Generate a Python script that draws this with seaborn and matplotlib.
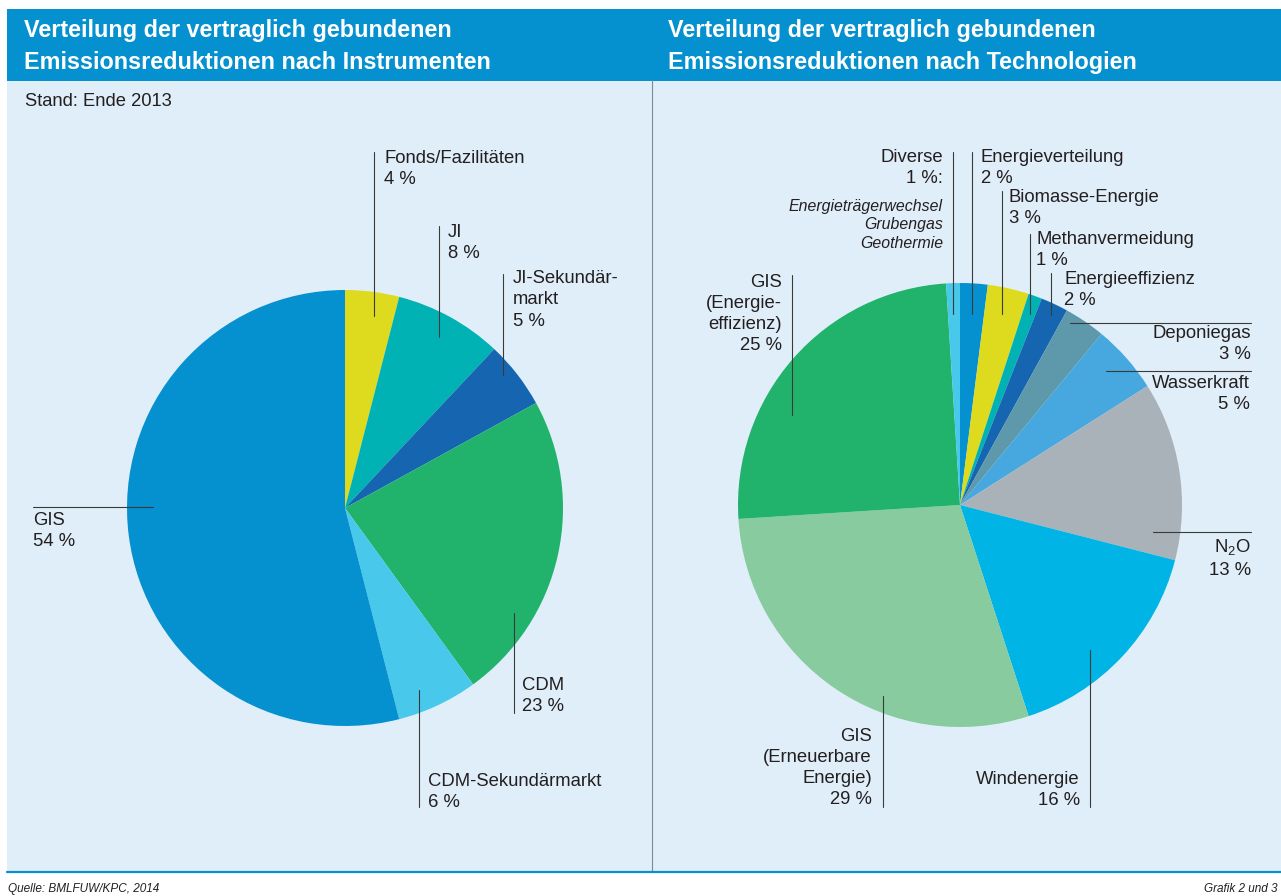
import matplotlib
matplotlib.use("Agg")
import matplotlib.pyplot as plt
import seaborn as sns

# --- Daten ---
instr_names = ["Fonds/Fazilitäten", "JI", "JI-Sekundärmarkt", "CDM", "CDM-Sekundärmarkt", "GIS"]
instr_values = [4, 8, 5, 23, 6, 54]
instr_colors = ["#dedb1f", "#00b2b4", "#1565b0", "#21b36b", "#48c8ea", "#0590d0"]

tech_names = ["Energieverteilung", "Biomasse-Energie", "Methanvermeidung", "Energieeffizienz",
              "Deponiegas", "Wasserkraft", "N2O", "Windenergie",
              "GIS (Erneuerbare Energie)", "GIS (Energieeffizienz)", "Diverse"]
tech_values = [2, 3, 1, 2, 3, 5, 13, 16, 29, 25, 1]
tech_colors = ["#0590d0", "#dedb1f", "#00b2b4", "#1565b0", "#5e98ab", "#46a8de",
               "#a9b2b8", "#00b4e6", "#88cb9e", "#21b36b", "#48c8ea"]

diverse_items = ["Energieträgerwechsel", "Grubengas", "Geothermie"]

# --- Layout (Pixel) ---
W, H = 1281, 896
HEAD_BLUE = "#0590d0"
PANEL_BG = "#e0eef9"
TXT = "#231f20"
LINE = "#3a3a3a"

sns.set_theme(style="white")
plt.rcParams["font.family"] = ["Liberation Sans", "DejaVu Sans"]
plt.rcParams["mathtext.fontset"] = "custom"
plt.rcParams["mathtext.rm"] = "Liberation Sans"

fig = plt.figure(figsize=(W / 100, H / 100), dpi=100)
fig.patch.set_facecolor("white")


def pixel_axes(zorder):
    a = fig.add_axes([0, 0, 1, 1], zorder=zorder)
    a.set_xlim(0, W)
    a.set_ylim(H, 0)
    a.axis("off")
    a.patch.set_alpha(0)
    return a


bg = pixel_axes(0)

# Hintergrund, Kopfzeile, Trennlinien
bg.add_patch(plt.Rectangle((7, 80), W - 7, 792, color=PANEL_BG, lw=0))
bg.add_patch(plt.Rectangle((7, 9), W - 7, 72, color=HEAD_BLUE, lw=0))
bg.plot([652, 652], [80, 872], color="#7a8a96", lw=0.8)
bg.plot([7, W], [872, 872], color=HEAD_BLUE, lw=1.6)

title_kw = dict(color="white", fontsize=16.8, fontweight="bold", va="baseline")
bg.text(24, 37, "Verteilung der vertraglich gebundenen", **title_kw)
bg.text(24, 69, "Emissionsreduktionen nach Instrumenten", **title_kw)
bg.text(668, 37, "Verteilung der vertraglich gebundenen", **title_kw)
bg.text(668, 69, "Emissionsreduktionen nach Technologien", **title_kw)

bg.text(25, 101, "Stand: Ende 2013", fontsize=13.2, color=TXT, va="center")

bg.text(8, 889, "Quelle: BMLFUW/KPC, 2014", fontsize=8.5, style="italic", color=TXT, va="center")
bg.text(1278, 889, "Grafik 2 und 3", fontsize=8.5, style="italic", color=TXT, va="center", ha="right")


def pie_axes(cx, cy, r):
    return fig.add_axes([(cx - r) / W, (H - cy - r) / H, 2 * r / W, 2 * r / H], zorder=1)


ax1 = pie_axes(345, 508, 218)
ax1.pie(instr_values, colors=sns.color_palette(instr_colors), startangle=90, counterclock=False,
        wedgeprops=dict(linewidth=0.3, edgecolor="none"))
ax1.set_xlim(-1, 1)
ax1.set_ylim(-1, 1)
ax1.axis("off")

ax2 = pie_axes(960, 505, 222)
ax2.pie(tech_values, colors=sns.color_palette(tech_colors), startangle=90, counterclock=False,
        wedgeprops=dict(linewidth=0.3, edgecolor="none"))
ax2.set_xlim(-1, 1)
ax2.set_ylim(-1, 1)
ax2.axis("off")

# Beschriftungen und Hinweislinien über den Torten
top = pixel_axes(2)

# (Text, x, y-Mitte, ha)
lab_kw = dict(fontsize=13.3, color=TXT, va="center", linespacing=1.33)
left_labels = [
    (f"Fonds/Fazilitäten\n{instr_values[0]} %", 384, 169, "left"),
    (f"JI\n{instr_values[1]} %", 448, 243, "left"),
    (f"JI-Sekundär-\nmarkt\n{instr_values[2]} %", 513, 300, "left"),
    (f"GIS\n{instr_values[5]} %", 33, 531, "left"),
    (f"CDM\n{instr_values[3]} %", 522, 696, "left"),
    (f"CDM-Sekundärmarkt\n{instr_values[4]} %", 428, 792, "left"),
]
right_labels = [
    (f"Diverse\n{tech_values[10]} %:", 943, 168, "right"),
    (f"Energieverteilung\n{tech_values[0]} %", 981, 168, "left"),
    (f"Biomasse-Energie\n{tech_values[1]} %", 1009, 208, "left"),
    (f"Methanvermeidung\n{tech_values[2]} %", 1036, 250, "left"),
    (f"Energieeffizienz\n{tech_values[3]} %", 1064, 290, "left"),
    (f"Deponiegas\n{tech_values[4]} %", 1251, 344, "right"),
    (f"Wasserkraft\n{tech_values[5]} %", 1250, 394, "right"),
    (f"N$_\\mathrm{{2}}$O\n{tech_values[6]} %", 1251, 558, "right"),
    (f"Windenergie\n{tech_values[7]} %", 1080, 790, "right"),
    (f"GIS\n(Erneuerbare\nEnergie)\n{tech_values[8]} %", 872, 768, "right"),
    (f"GIS\n(Energie-\neffizienz)\n{tech_values[9]} %", 782, 314, "right"),
]
for s, x, y, ha in left_labels + right_labels:
    top.text(x, y, s, ha=ha, multialignment=ha, **lab_kw)

top.text(943, 225, "\n".join(diverse_items), ha="right", va="center", fontsize=11.4,
         style="italic", color=TXT, linespacing=1.28)

vlines = [(374, 152, 316), (439, 226, 337), (503, 274, 375), (514, 613, 713), (419, 690, 807),
          (953, 152, 314), (972, 152, 314), (1002, 191, 314), (1030, 234, 314), (1051, 273, 315),
          (1090, 650, 807), (883, 696, 807), (792, 275, 415)]
hlines = [(507, 33, 153), (323, 1070, 1251), (371, 1106, 1251), (532, 1153, 1251)]
for x, y0, y1 in vlines:
    top.plot([x, x], [y0, y1], color=LINE, lw=0.8)
for y, x0, x1 in hlines:
    top.plot([x0, x1], [y, y], color=LINE, lw=0.8)

fig.savefig("out.png", dpi=100, facecolor=fig.get_facecolor())
